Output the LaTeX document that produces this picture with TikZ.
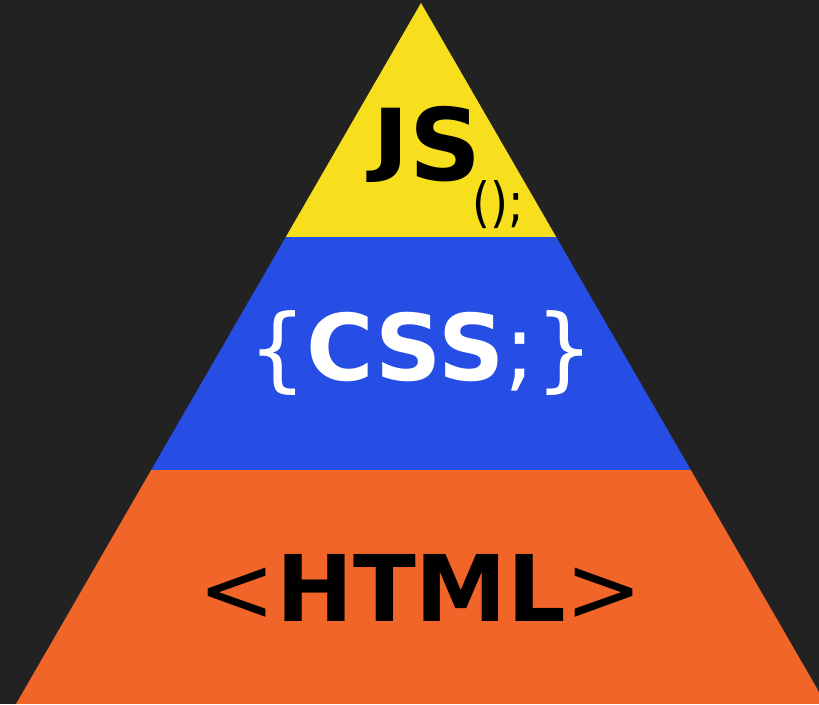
\documentclass[tikz,border=0pt]{standalone}
\usepackage{fontspec}
\setmainfont{DejaVu Sans}
\definecolor{bgdark}{HTML}{222222}
\definecolor{jsyellow}{HTML}{F7DF1E}
\definecolor{cssblue}{HTML}{264DE4}
\definecolor{htmlorange}{HTML}{F16529}

\begin{document}
\begin{tikzpicture}[x=1pt,y=-1pt,
    label/.style={anchor=base,inner sep=0pt}]
  \fill[bgdark] (0,0) rectangle (819,704);
  \useasboundingbox (0,0) rectangle (819,704);
  \clip (0,0) rectangle (819,704);

  \begin{scope}
    \coordinate (apex) at (421,3);
    \coordinate (bl) at (16,704);
    \coordinate (br) at (826,704);
    \clip (apex) -- (bl) -- (br) -- cycle;
    \fill[jsyellow] (0,0) rectangle (819,237);
    \fill[cssblue] (0,237) rectangle (819,470);
    \fill[htmlorange] (0,470) rectangle (819,704);
  \end{scope}

  % J kept on the baseline
  \node[label] (js) at (427,180) {\fontsize{100}{100}\selectfont\bfseries
    \raisebox{14pt}{\scalebox{1}[0.8]{J}}S};
  \node[label,anchor=base west] (call) at (472,221)
    {\scalebox{0.85}[1]{\fontsize{54}{54}\selectfont ();}};
  \node[label,text=white] (css) at (421,380) {\fontsize{92}{92}\selectfont \{\textbf{CSS};\}};
  \node[label] (html) at (421,621) {\fontsize{92}{92}\selectfont <\textbf{HTML}>};
\end{tikzpicture}
\end{document}
